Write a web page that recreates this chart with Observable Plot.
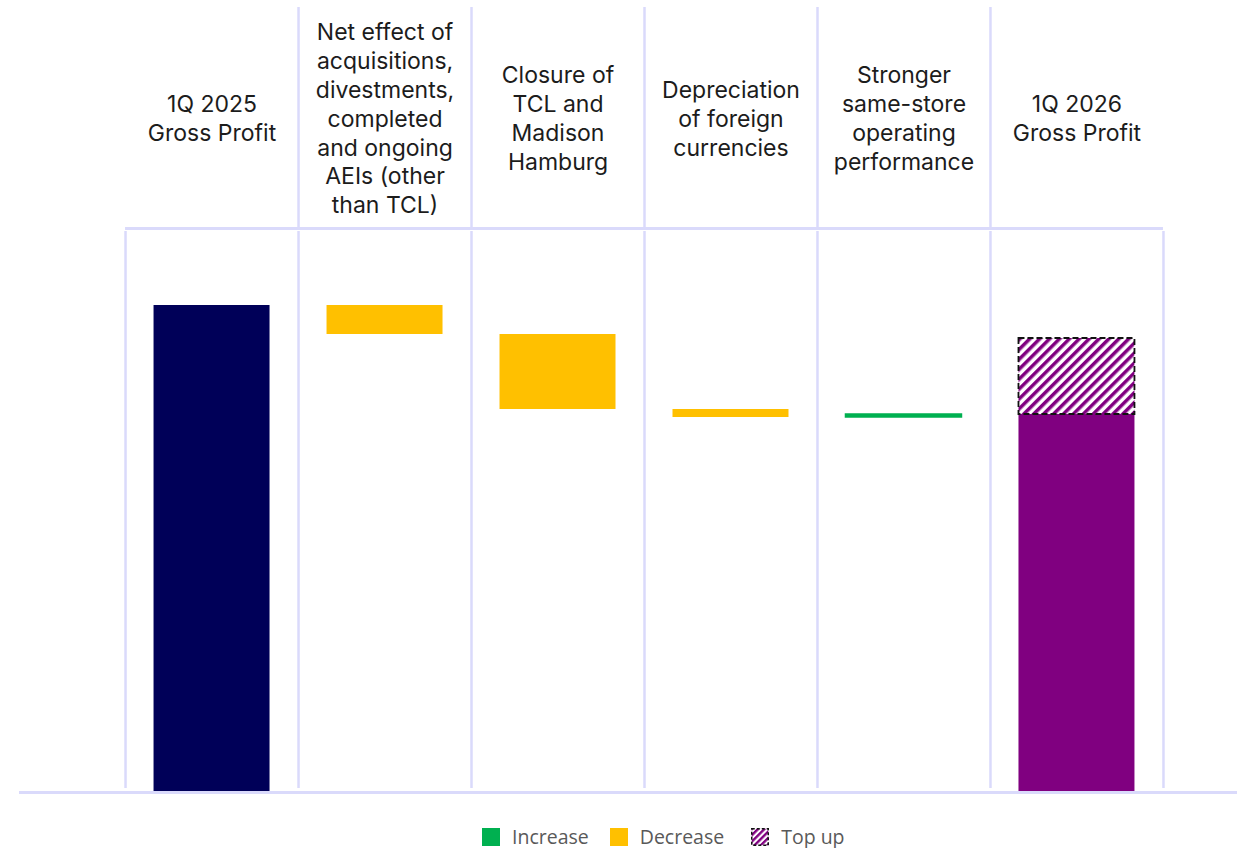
<!DOCTYPE html>
<html>
<head>
<meta charset="utf-8">
<script src="https://cdn.jsdelivr.net/npm/d3@7"></script>
<script src="https://cdn.jsdelivr.net/npm/@observablehq/plot@0.6"></script>
<style>
  html, body { margin: 0; padding: 0; background: #fff; }
  #chart svg { display: block; }
  .legend { display: flex; justify-content: flex-start; align-items: center; margin-top: 26px; padding-left: 482px;
    font-family: "Open Sans", sans-serif; font-size: 19.5px; color: #595959; line-height: 22px; }
  .legend .item { display: flex; align-items: center; margin-right: 21px; }
  .legend .sw { width: 18px; height: 18px; margin-right: 12px; display: inline-block; }
</style>
</head>
<body>
<div id="chart"></div>
<div class="legend" id="legend"></div>
<script>
// ---- data ----
const categories = [
  "1Q 2025\nGross Profit",
  "Net effect of\nacquisitions,\ndivestments,\ncompleted\nand ongoing\nAEIs (other\nthan TCL)",
  "Closure of\nTCL and\nMadison\nHamburg",
  "Depreciation\nof foreign\ncurrencies",
  "Stronger\nsame-store\noperating\nperformance",
  "1Q 2026\nGross Profit"
];
const types = ["start", "decrease", "decrease", "decrease", "increase", "end"];
const values = [487, -29, -75, -8, 3, 378];
const topUp = 76;
const legendLabels = ["Increase", "Decrease", "Top up"];

// ---- colours ----
const colors = { start: "#000058", decrease: "#FFC000", increase: "#00B050", end: "#800080" };
const gridColor = "#dadafb";

// ---- build waterfall table ----
let running = 0;
const bars = categories.map((c, i) => {
  const t = types[i];
  let y1, y2;
  if (t === "start" || t === "end") { y1 = 0; y2 = values[i]; running = values[i]; }
  else { y1 = running; y2 = running + values[i]; running = y2; }
  return { i, label: c, type: t, y1, y2 };
});
const endBar = bars[bars.length - 1];
const topUpBar = [{ i: endBar.i, y1: endBar.y2, y2: endBar.y2 + topUp }];
const headers = categories.map((c, i) => ({ i, label: c }));
const inner = d3.range(1, categories.length);
const all = d3.range(0, categories.length + 1);

const plot = Plot.plot({
  width: 1240,
  height: 800,
  marginTop: 8,
  marginBottom: 8,
  marginLeft: 19,
  marginRight: 3,
  x: { type: "linear", domain: [-0.613, 6.428], axis: null },
  y: { domain: [0, 784], axis: null },
  marks: [
    // header separators
    Plot.ruleX(inner, { x: d => d, y1: 565, y2: 785, stroke: gridColor, strokeWidth: 2.5 }),
    // header underline
    Plot.ruleY([564], { x1: 0, x2: categories.length, stroke: gridColor, strokeWidth: 3 }),
    // body separators
    Plot.ruleX(all, { x: d => d, y1: 4, y2: 561, stroke: gridColor, strokeWidth: 2.5 }),
    // header text
    Plot.text(headers, {
      x: d => d.i + 0.5, y: 675, text: "label",
      fontSize: 23, lineHeight: 1.255, fill: "#1c1c1c", lineAnchor: "middle",
      fontFamily: "Inter, sans-serif"
    }),
    // bars
    Plot.rectY(bars, {
      x1: d => d.i, x2: d => d.i + 1, y1: "y1", y2: "y2",
      fill: d => colors[d.type], insetLeft: 28.5, insetRight: 28.5
    }),
    // thin outline for the increase bar (visible as a short line)
    Plot.rectY(bars.filter(d => d.type === "increase"), {
      x1: d => d.i, x2: d => d.i + 1, y1: "y1", y2: "y2",
      fill: colors.increase, stroke: colors.increase, strokeWidth: 1.5,
      insetLeft: 28.5, insetRight: 28.5
    }),
    // top-up
    Plot.rectY(topUpBar, {
      x1: d => d.i, x2: d => d.i + 1, y1: "y1", y2: "y2",
      fill: "url(#topup)", stroke: "#111", strokeWidth: 1.8, strokeDasharray: "6,3",
      insetLeft: 28.5, insetRight: 28.5
    }),
    // baseline
    Plot.ruleY([0], { stroke: gridColor, strokeWidth: 3 })
  ]
});

const patternDefs = `
  <pattern id="topup" patternUnits="userSpaceOnUse" width="7" height="7" patternTransform="rotate(45)">
    <rect width="7" height="7" fill="#fff"/>
    <rect width="3.5" height="7" fill="#800080"/>
  </pattern>`;
const defs = d3.select(plot).insert("defs", ":first-child");
defs.html(patternDefs);
document.getElementById("chart").appendChild(plot);

// ---- legend ----
const legend = document.getElementById("legend");
const swatches = [
  `<svg class="sw" viewBox="0 0 18 18"><rect width="18" height="18" fill="${colors.increase}"/></svg>`,
  `<svg class="sw" viewBox="0 0 18 18"><rect width="18" height="18" fill="${colors.decrease}"/></svg>`,
  `<svg class="sw" viewBox="0 0 18 18"><defs><pattern id="lg" patternUnits="userSpaceOnUse" width="4.5" height="4.5" patternTransform="rotate(45)"><rect width="4.5" height="4.5" fill="#fff"/><rect width="2.4" height="4.5" fill="#800080"/></pattern></defs><rect x="0.75" y="0.75" width="16.5" height="16.5" fill="url(#lg)" stroke="#111" stroke-width="1.5" stroke-dasharray="3,2"/></svg>`
];
legendLabels.forEach((l, k) => {
  const it = document.createElement("div");
  it.className = "item";
  if (k === 1) it.style.marginRight = "27px";
  it.innerHTML = swatches[k] + `<span>${l}</span>`;
  legend.appendChild(it);
});
</script>
</body>
</html>
